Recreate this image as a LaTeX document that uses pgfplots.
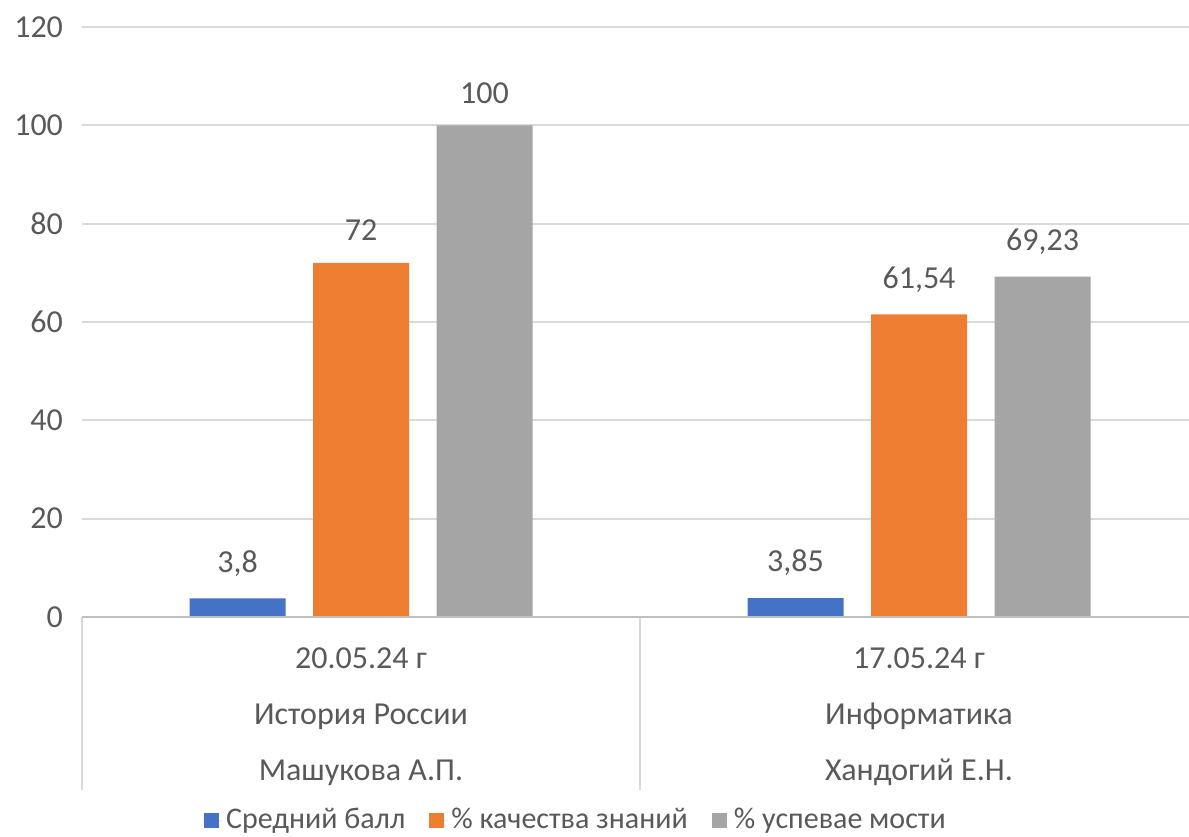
\documentclass[border=0pt]{standalone}
\usepackage{pgfplots}
\pgfplotsset{compat=1.18}
\usepackage{fontspec}
\setmainfont{Carlito}
\definecolor{cblue}{HTML}{4472C4}
\definecolor{corange}{HTML}{ED7D31}
\definecolor{cgray}{HTML}{A5A5A5}
\definecolor{ctext}{HTML}{595959}
\definecolor{cgrid}{HTML}{D9D9D9}
\definecolor{caxis}{HTML}{BFBFBF}
\begin{document}
\begin{tikzpicture}
\useasboundingbox (0,0) rectangle (594.5pt,418pt);
\begin{axis}[
  at={(41pt,109.5pt)}, anchor=south west,
  scale only axis,
  width=558pt, height=295pt,
  xmin=-0.5, xmax=1.5,
  ymin=0, ymax=120,
  ytick={0,20,...,120},
  ymajorgrids,
  grid style={cgrid, line width=1pt},
  axis line style={draw=none},
  y tick style={draw=none},
  xtick={0,1},
  x tick style={draw=none},
  xticklabels={{20.05.24 г\\История России\\Машукова А.П.},{17.05.24 г\\Информатика\\Хандогий Е.Н.}},
  x tick label style={align=center, font=\fontsize{16}{28}\selectfont, text=ctext, yshift=-7.5pt},
  y tick label style={font=\fontsize{16}{19}\selectfont, text=ctext, xshift=-6pt},
  /pgf/number format/assume math mode=true,
  ybar=13.75pt,
  bar width=48pt,
  nodes near coords={\pgfmathprintnumber[use comma,fixed,precision=2]{\pgfplotspointmeta}},
  every node near coord/.append style={font=\fontsize{16}{19}\selectfont, text=ctext, anchor=south, yshift=7.5pt},
  clip=false,
  legend columns=3,
  legend style={at={(0.4435,0)}, anchor=center, yshift=-101.5pt, draw=none, fill=none,
    font=\fontsize{15}{18}\selectfont, text=ctext,
    /tikz/every even column/.append style={column sep=10pt}},
  legend image code/.code={\fill[#1] (0pt,-3.75pt) rectangle (7.5pt,3.75pt); \path (0pt,0pt) -- (9pt,0pt);},
]
\addplot[fill=cblue, draw=none] coordinates {(0,3.8) (1,3.85)};
\addplot[fill=corange, draw=none] coordinates {(0,72) (1,61.54)};
\addplot[fill=cgray, draw=none] coordinates {(0,100) (1,69.23)};
\legend{Средний балл, \% качества знаний, \% успевае мости}
\draw[cgrid, line width=1pt] (axis cs:-0.5,0) -- ++(0pt,-86.5pt);
\draw[cgrid, line width=1pt] (axis cs:0.5,0) -- ++(0pt,-86.5pt);
\draw[cgrid, line width=1pt] (axis cs:1.5,0) -- ++(0pt,-86.5pt);
\draw[caxis, line width=1pt] (axis cs:-0.5,0) -- (axis cs:1.5,0);
\end{axis}
\end{tikzpicture}
\end{document}
